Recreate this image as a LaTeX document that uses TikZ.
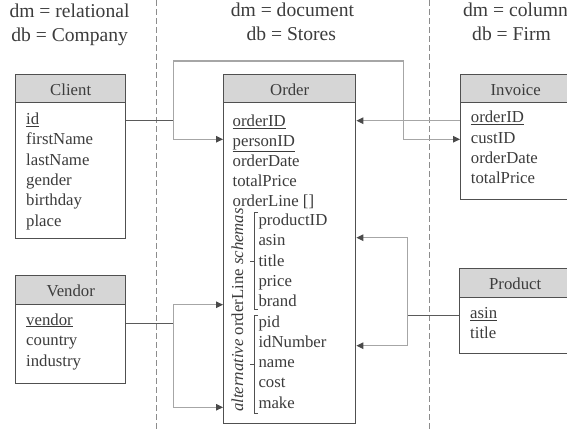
\documentclass[tikz,border=0pt]{standalone}
\usepackage{fontspec}
\setmainfont{Liberation Serif}
\usetikzlibrary{arrows.meta}
\definecolor{txtgray}{HTML}{3C3C3C}
\definecolor{boxgray}{HTML}{505050}
\definecolor{hdrfill}{HTML}{D6D6D6}
\definecolor{darkln}{HTML}{5A5A5A}
\definecolor{lightln}{HTML}{A6A6A6}
\definecolor{sepgray}{HTML}{8C8C8C}
\definecolor{tipgray}{HTML}{4A4A4A}
\newcommand{\rowfont}{\fontsize{16.75}{20}\selectfont}
\newcommand{\topfont}{\fontsize{19.6}{23}\selectfont}
\begin{document}
\begin{tikzpicture}[x=1pt,y=-1pt,
  box/.style={draw=boxgray, line width=1.4pt, fill=white, anchor=north west, inner sep=0pt},
  hdr/.style={draw=boxgray, line width=1.4pt, fill=hdrfill, anchor=north west, inner sep=0pt,
              text=txtgray, font=\rowfont, text height=13pt, text depth=0pt},
  row/.style={anchor=base west, inner sep=0pt, text=txtgray, font=\rowfont},
  toplbl/.style={anchor=base, inner sep=0pt, text=txtgray, font=\topfont},
  sepline/.style={draw=sepgray, line width=0.9pt, dash pattern=on 6pt off 3pt},
  brk/.style={draw=boxgray, line width=0.9pt},
  darkconn/.style={draw=darkln, line width=1.2pt},
  lightconn/.style={draw=lightln, line width=1.2pt},
  arr/.style={-{Triangle[length=7pt,width=6.5pt,color=tipgray]}}
]
\clip (0,0) rectangle (567,430);

% column separators
\draw[sepline] (156,0) -- (156,430);
\draw[sepline] (429.5,0) -- (429.5,430);

% top labels
\node[toplbl] (l1a) at (69.5,17.3) {dm = relational};
\node[toplbl] (l1b) at (69.7,41.7) {db = Company};
\node[toplbl] (l2a) at (292.4,16.9) {dm = document};
\node[toplbl] (l2b) at (291.3,40.5) {db = Stores};
\node[toplbl] (l3a) at (515.5,16.9) {dm = column};
\node[toplbl] (l3b) at (511.5,40.5) {db = Firm};

% boxes
\node[box, minimum width=110pt, minimum height=164pt] (client) at (15,74) {};
\node[hdr, minimum width=110pt, minimum height=28pt] (clienth) at (15,74) {Client};
\node[box, minimum width=132pt, minimum height=349pt] (order) at (223,74) {};
\node[hdr, minimum width=132pt, minimum height=28pt] (orderh) at (223,74) {Order};
\node[box, minimum width=110pt, minimum height=125pt] (invoice) at (460,74) {};
\node[hdr, minimum width=110pt, minimum height=28pt] (invoiceh) at (460,74) {Invoice};
\node[box, minimum width=111pt, minimum height=85pt] (product) at (459,268) {};
\node[hdr, minimum width=111pt, minimum height=29pt] (producth) at (459,268) {Product};
\node[box, minimum width=110pt, minimum height=108pt] (vendor) at (15,275) {};
\node[hdr, minimum width=110pt, minimum height=29pt] (vendorh) at (15,275) {Vendor};

% Client rows
\node[row] (c1) at (26,124.5) {\underline{id}};
\node[row] (c2) at (26,145) {firstName};
\node[row] (c3) at (26,165.2) {lastName};
\node[row] (c4) at (26,185.5) {gender};
\node[row] (c5) at (26,205.7) {birthday};
\node[row] (c6) at (26,226) {place};

% Order rows
\node[row] (o1) at (232.5,126.7) {\underline{orderID}};
\node[row] (o2) at (232.5,146.7) {\underline{personID}};
\node[row] (o3) at (232.5,166.7) {orderDate};
\node[row] (o4) at (232.5,186.7) {totalPrice};
\node[row] (o5) at (232.5,206.7) {orderLine []};
\node[row] (p1) at (258.3,225.5) {productID};
\node[row] (p2) at (258.3,245.8) {asin};
\node[row] (p3) at (258.3,266.1) {title};
\node[row] (p4) at (258.3,286.4) {price};
\node[row] (p5) at (258.3,306.7) {brand};
\node[row] (q1) at (258.3,327) {pid};
\node[row] (q2) at (258.3,347.3) {idNumber};
\node[row] (q3) at (258.3,367.6) {name};
\node[row] (q4) at (258.3,387.9) {cost};
\node[row] (q5) at (258.3,408.2) {make};
\node[rotate=90, inner sep=0pt, text=txtgray, font=\rowfont] (alt) at (237.3,310)
  {\textit{alternative} orderLine \textit{schemas}};

% brackets
\draw[brk] (258,212.7) -- (254.3,212.7) -- (254.3,309.3) -- (258,309.3);
\draw[brk] (250,261.7) -- (254.3,261.7);
\draw[brk] (258,315) -- (254.3,315) -- (254.3,413.3) -- (258,413.3);
\draw[brk] (250,364.3) -- (254.3,364.3);

% Invoice rows
\node[row] (i1) at (470.7,123) {\underline{orderID}};
\node[row] (i2) at (470.7,143.2) {custID};
\node[row] (i3) at (470.7,163.4) {orderDate};
\node[row] (i4) at (470.7,183.7) {totalPrice};

% Product rows
\node[row] (r1) at (470,318.3) {\underline{asin}};
\node[row] (r2) at (470,338.5) {title};

% Vendor rows
\node[row] (v1) at (26,325) {\underline{vendor}};
\node[row] (v2) at (26,345.5) {country};
\node[row] (v3) at (26,366) {industry};

% connector helper coordinates
\coordinate (jc) at (173.3,120.7);
\coordinate (bendA) at (403.5,61);
\coordinate (ypid) at (0,139.3);
\coordinate (ycust) at (0,139.3);
\coordinate (yoid) at (0,120.7);
\coordinate (jp) at (407.3,315.3);
\coordinate (yasin) at (0,237.7);
\coordinate (yidn) at (0,345.7);
\coordinate (jv) at (173.3,323.3);
\coordinate (ybrand) at (0,304.7);
\coordinate (ymake) at (0,407.3);

% Client -> Order.personID and Invoice.custID
\draw[darkconn] (client.east |- jc) -- (jc);
\draw[lightconn, arr] (jc) |- (order.west |- ypid);
\draw[lightconn, arr] (jc) |- (bendA) |- (invoice.west |- ycust);

% Invoice.orderID -> Order.orderID
\draw[lightconn, arr] (invoice.west |- yoid) -- (order.east |- yoid);

% Product.asin -> Order (asin, idNumber)
\draw[darkconn] (product.west |- jp) -- (jp);
\draw[lightconn, arr] (jp) |- (order.east |- yasin);
\draw[lightconn, arr] (jp) |- (order.east |- yidn);

% Vendor.vendor -> Order (brand, make)
\draw[darkconn] (vendor.east |- jv) -- (jv);
\draw[lightconn, arr] (jv) |- (order.west |- ybrand);
\draw[lightconn, arr] (jv) |- (order.west |- ymake);
\end{tikzpicture}
\end{document}
